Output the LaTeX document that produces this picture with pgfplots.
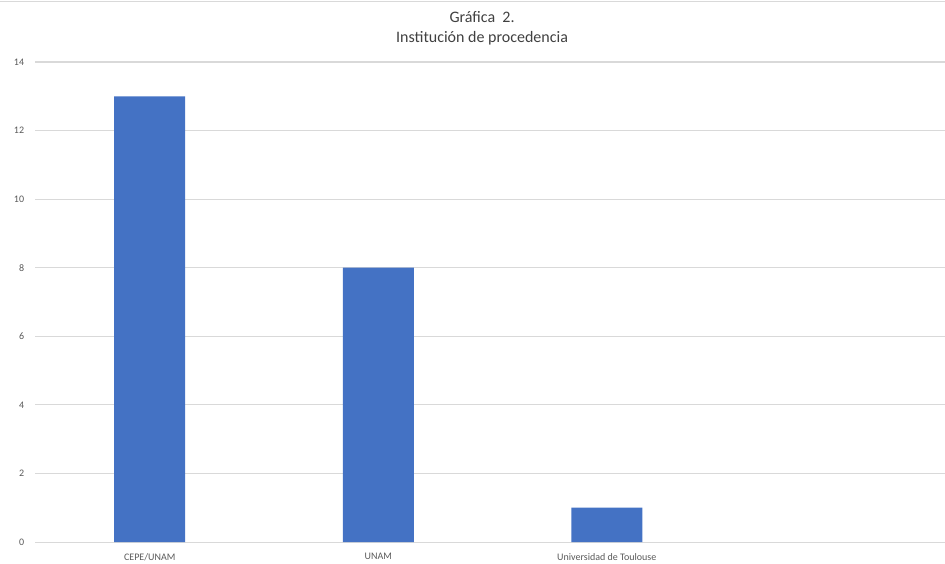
\documentclass[border=0pt]{standalone}
\usepackage{pgfplots}
\pgfplotsset{compat=1.18}
\usepackage{fontspec}
\setmainfont{Carlito}
\definecolor{barblue}{HTML}{4472C4}
\definecolor{gridgray}{HTML}{D9D9D9}
\definecolor{txtgray}{HTML}{595959}
\definecolor{titlegray}{HTML}{404040}
\begin{document}
\begin{tikzpicture}[x=1pt,y=1pt]
\useasboundingbox (-26.6,-15.75) rectangle (682.1,406.5);
\draw[gridgray,line width=1.2pt] (-26.6,405.3) -- (682.1,405.3);
\begin{axis}[
    at={(0,0)}, anchor=south west,
    scale only axis,
    width=682.1pt, height=360pt,
    xmin=-0.5, xmax=3.48,
    ymin=0, ymax=14,
    ytick={0,2,...,14},
    xtick={0,1,2},
    xticklabels={CEPE/UNAM,UNAM,Universidad de Toulouse},
    axis line style={draw=none},
    tick style={draw=none},
    ymajorgrids,
    grid style={gridgray,line width=0.8pt},
    ticklabel style={font=\fontsize{7.5}{9}\selectfont,text=txtgray},
    /pgf/number format/assume math mode=true,
    yticklabel style={xshift=-5pt},
    xticklabel style={yshift=-0.5pt},
    ybar, bar width=53.25pt,
]
\addplot[fill=barblue,draw=none] coordinates {(0,13) (1,8) (2,1)};
\end{axis}
\node[text=titlegray,font=\fontsize{12}{14}\selectfont] at (334.9,393.5) {Gráfica\ \ 2.};
\node[text=titlegray,font=\fontsize{12}{14}\selectfont] at (334.9,377.5) {Institución de procedencia};
\end{tikzpicture}
\end{document}
